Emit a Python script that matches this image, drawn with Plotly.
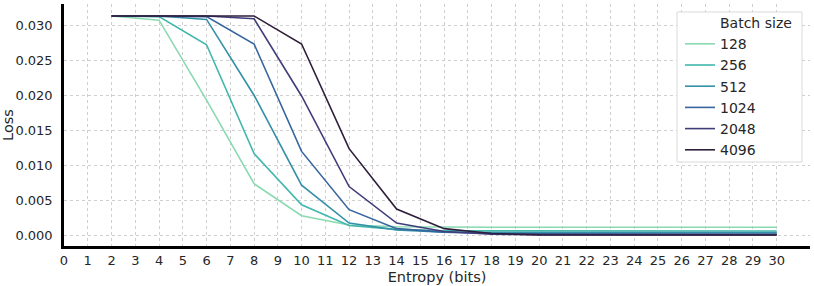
import plotly.graph_objects as go

entropy = [2, 4, 6, 8, 10, 12, 14, 16, 18, 20, 22, 24, 26, 28, 30]
batch_sizes = ["128", "256", "512", "1024", "2048", "4096"]
loss_128 = [0.0313, 0.0307, 0.0193, 0.0074, 0.00285, 0.00152, 0.00128, 0.0012, 0.0012, 0.0012, 0.0012, 0.0012, 0.0012, 0.0012, 0.0012]
loss_256 = [0.0313, 0.0312, 0.0272, 0.0117, 0.0044, 0.00145, 0.0009, 0.0007, 0.00068, 0.00067, 0.00067, 0.00067, 0.00067, 0.00067, 0.00067]
loss_512 = [0.0313, 0.0313, 0.0308, 0.0200, 0.0072, 0.0018, 0.0008, 0.0005, 0.00045, 0.00043, 0.00043, 0.00043, 0.00043, 0.00043, 0.00043]
loss_1024 = [0.0313, 0.0313, 0.0312, 0.0273, 0.0120, 0.0037, 0.0010, 0.0005, 0.0003, 0.00025, 0.00024, 0.00024, 0.00024, 0.00024, 0.00024]
loss_2048 = [0.0313, 0.0313, 0.0313, 0.0309, 0.0199, 0.0070, 0.0018, 0.0006, 0.0002, 0.00015, 0.00012, 0.00012, 0.00012, 0.00012, 0.00012]
loss_4096 = [0.0313, 0.0313, 0.0313, 0.0313, 0.0273, 0.0124, 0.0038, 0.0010, 0.0003, 0.00012, 0.0001, 0.0001, 0.0001, 0.0001, 0.0001]
colors = ["#8ad9b1", "#40b7ad", "#348fa7", "#37659e", "#413d7b", "#2e1e3b"]
x_ticks = list(range(0, 31))
y_ticks = [0.000, 0.005, 0.010, 0.015, 0.020, 0.025, 0.030]

series = [loss_128, loss_256, loss_512, loss_1024, loss_2048, loss_4096]

FONT = "DejaVu Sans"
W, H = 814, 286
ML, MR, MT, MB = 64, 4, 4, 40
PW, PH = W - ML - MR, H - MT - MB


def px_x(p):
    return (p - ML) / PW


def px_y(p):
    return (H - MB - p) / PH


fig = go.Figure()
# legend title as a blank-symbol entry so it aligns with labels
fig.add_trace(go.Scatter(x=[None], y=[None], mode="lines", name="Batch size",
                         line=dict(color="rgba(0,0,0,0)", width=1.5), hoverinfo="skip"))
for name, vals, c in zip(batch_sizes, series, colors):
    fig.add_trace(go.Scatter(x=entropy, y=vals, mode="lines", name=name,
                             line=dict(color=c, width=1.6)))

# legend frame
fig.add_shape(type="rect", xref="paper", yref="paper",
              x0=px_x(677), x1=px_x(802), y0=px_y(162), y1=px_y(12),
              fillcolor="white", line=dict(color="#d9d9d9", width=1), layer="above")

fig.update_layout(
    width=W, height=H,
    margin=dict(l=ML, r=MR, t=MT, b=MB, autoexpand=False),
    paper_bgcolor="white", plot_bgcolor="white",
    font=dict(family=FONT, size=13, color="#262626"),
    showlegend=True,
    legend=dict(x=px_x(680), y=px_y(7), xanchor="left", yanchor="top",
                bgcolor="rgba(0,0,0,0)", borderwidth=0,
                font=dict(family=FONT, size=14, color="#262626"),
                tracegroupgap=0, itemwidth=30),
)
fig.update_xaxes(
    range=[0, 31.4], tickmode="array", tickvals=x_ticks,
    ticktext=[str(v) for v in x_ticks], automargin=False,
    showline=True, linecolor="black", linewidth=2.5, mirror=False,
    showgrid=True, gridcolor="#cfcfcf", griddash="dot", gridwidth=1,
    zeroline=False, ticks="", ticklabelstandoff=1,
    title=dict(text="Entropy (bits)", standoff=5, font=dict(size=14.5)),
    tickfont=dict(size=13),
)
fig.update_yaxes(
    range=[-0.00147, 0.0330], tickmode="array", tickvals=y_ticks,
    ticktext=[f"{v:.3f}" for v in y_ticks], automargin=False,
    showline=True, linecolor="black", linewidth=2.5, mirror=False,
    showgrid=True, gridcolor="#cfcfcf", griddash="dot", gridwidth=1,
    zeroline=False, ticks="", ticklabelstandoff=6,
    title=dict(text="Loss", standoff=6, font=dict(size=14.5)),
    tickfont=dict(size=13),
)
fig.write_html("out.html", config={"displayModeBar": False},
               post_script="document.body.style.margin='0';")
